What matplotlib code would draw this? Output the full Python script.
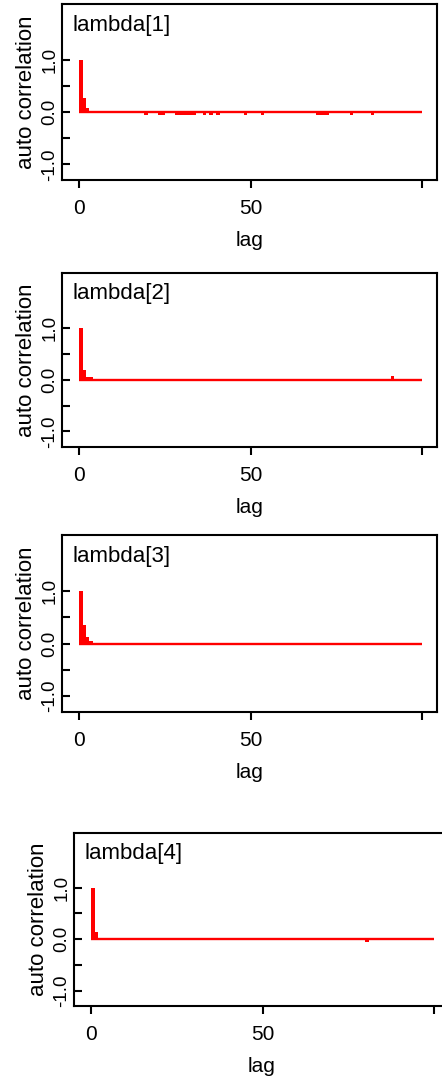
import numpy as np
import matplotlib
matplotlib.use('Agg')
import matplotlib.pyplot as plt

plt.rcParams['font.family'] = ['Liberation Sans', 'DejaVu Sans']

# autocorrelation values (lags 0..99, unlisted lags ~ 0)
n_lags = 100
titles = ['lambda[1]', 'lambda[2]', 'lambda[3]', 'lambda[4]']

acf1_head = [1.0, 0.27, 0.075]
acf1_blip_lags = [19, 23, 24, 28, 29, 30, 31, 32, 33, 36, 38, 40, 48, 53,
                  69, 70, 71, 72, 79, 85]
acf1_blip_vals = [-0.06] * len(acf1_blip_lags)

acf2_head = [1.0, 0.19, 0.045, 0.045]
acf2_blip_lags = [91]
acf2_blip_vals = [0.07]

acf3_head = [1.0, 0.35, 0.12, 0.045]
acf3_blip_lags = []
acf3_blip_vals = []

acf4_head = [1.0, 0.13]
acf4_blip_lags = [80]
acf4_blip_vals = [-0.06]

heads = [acf1_head, acf2_head, acf3_head, acf4_head]
blip_lags = [acf1_blip_lags, acf2_blip_lags, acf3_blip_lags, acf4_blip_lags]
blip_vals = [acf1_blip_vals, acf2_blip_vals, acf3_blip_vals, acf4_blip_vals]

yticks = [-1.0, -0.5, 0.0, 0.5, 1.0]
ytick_labels = ['-1.0', '', '0.0', '', '1.0']
xticks = [0, 50, 100]
xtick_labels = ['0', '50', '']

W, H = 442, 1083
fig = plt.figure(figsize=(W / 100, H / 100), dpi=100, facecolor='w')

# panel boxes in pixels: left, top, width, height
boxes = [(62, 4, 375, 176), (62, 273, 375, 174), (62, 535, 375, 177), (74, 833, 375, 173)]

lags = np.arange(n_lags)
for k in range(4):
    l, t, w, h = boxes[k]
    ax = fig.add_axes([l / W, 1 - (t + h) / H, w / W, h / H])

    vals = np.zeros(n_lags)
    vals[:len(heads[k])] = heads[k]
    for lg, v in zip(blip_lags[k], blip_vals[k]):
        vals[lg] = v

    ax.bar(lags, vals, width=1.0, align='edge', color='red', linewidth=0)
    # thick zero line under the bars
    ax.hlines(0, lags[0], lags[-1] + 1, colors='red', linewidth=1.7)

    ax.set_xlim(-5, 104.4)
    ax.set_ylim(-1.3, 2.06)
    for s in ax.spines.values():
        s.set_linewidth(1.5)

    ax.set_yticks(yticks)
    ax.set_yticklabels(ytick_labels, rotation=90, va='center', fontsize=13.5)
    ax.set_xticks(xticks)
    ax.set_xticklabels(xtick_labels, fontsize=15)
    ax.tick_params(axis='y', direction='in', length=6, width=1.5, pad=2.5)
    ax.tick_params(axis='x', direction='out', length=6, width=1.5, pad=8)

    ax.set_xlabel('lag', fontsize=15, labelpad=9)
    ax.set_ylabel('auto correlation', fontsize=16, labelpad=3)
    ax.text(0.027, 0.94, titles[k], transform=ax.transAxes, fontsize=16,
            ha='left', va='top')

fig.savefig('out.png', dpi=100)
